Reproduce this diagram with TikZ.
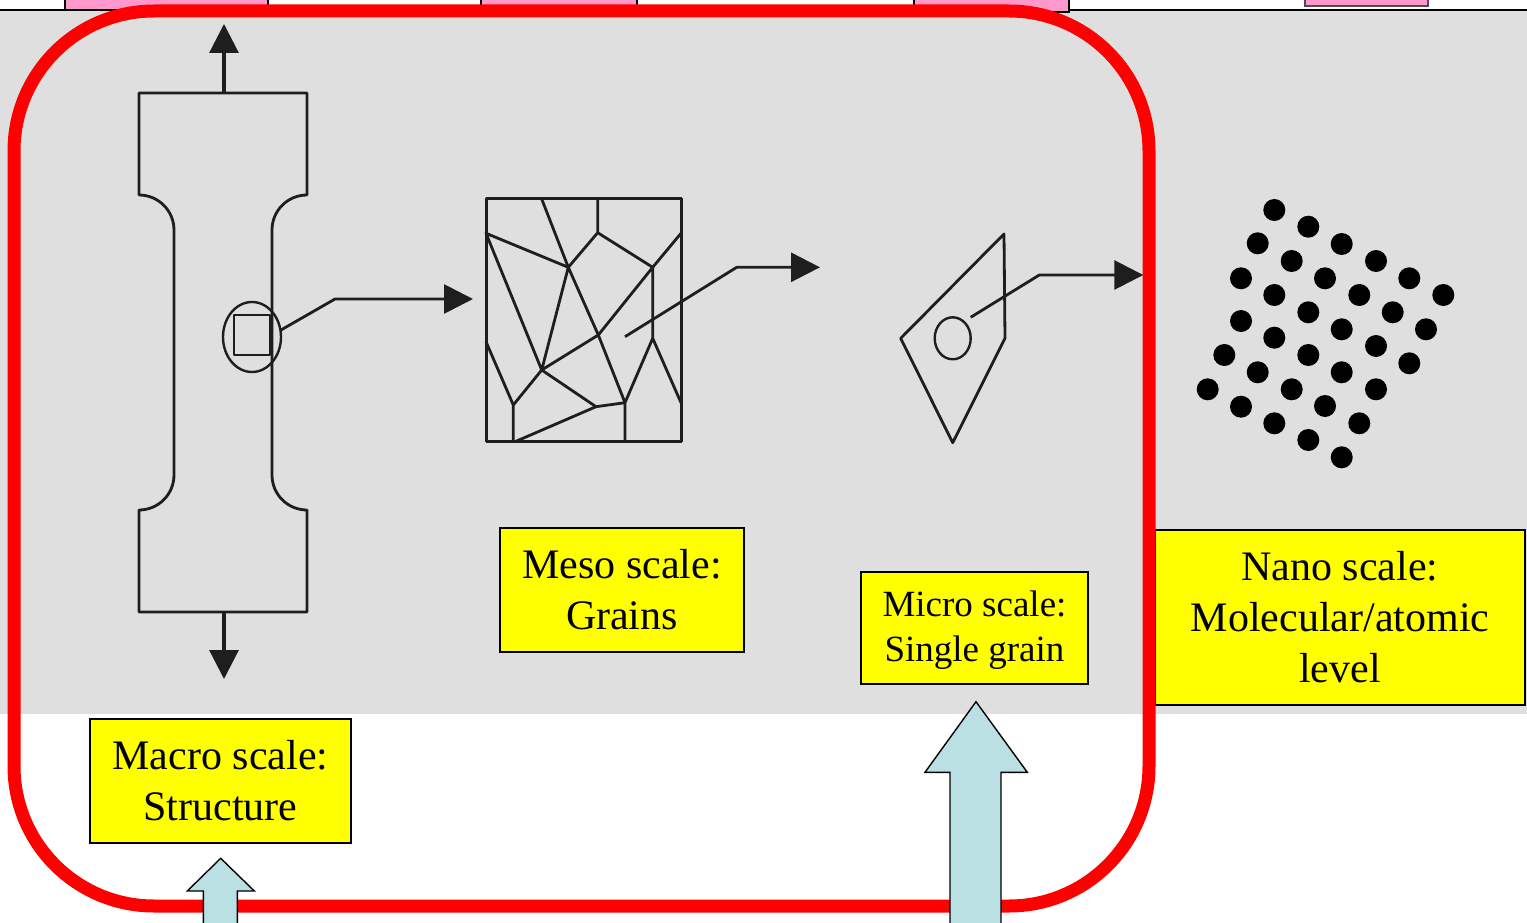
\documentclass[tikz,border=0pt]{standalone}
\usepackage{fontspec}
\setmainfont{Liberation Serif}
\usetikzlibrary{arrows.meta}
\definecolor{panelgray}{HTML}{DFDFDF}
\definecolor{tabpink}{HTML}{FF99CC}
\definecolor{scaleyellow}{HTML}{FFFF00}
\definecolor{arrowblue}{RGB}{187,224,227}
\definecolor{inkgray}{HTML}{1E1E1E}

\begin{document}
\begin{tikzpicture}[x=1pt,y=-1pt,
  sketch/.style={draw=inkgray, line width=2.8pt, line join=round, line cap=round},
  pointer/.style={sketch, line cap=butt, -{Triangle[length=29pt,width=29pt]}},
  scalebox/.style={draw=black, line width=1.4pt, fill=scaleyellow, align=center,
    inner sep=0pt, font=\fontsize{42}{51}\selectfont},
  tabbox/.style={draw=black, line width=1.4pt, fill=tabpink},
  blockarrow/.style={draw=black, line width=1.4pt, fill=arrowblue, line join=miter},
  atom/.style={fill=black}
]
\useasboundingbox (0,0) rectangle (1527,923);
\fill[white] (0,0) rectangle (1527,923);
\fill[panelgray] (0,10) rectangle (1527,714);

% tab strip along the top edge
\draw[black, line width=1.5pt] (0,10) -- (1527,10);
\draw[tabbox] (65,-5) rectangle (268,10);
\draw[tabbox] (481,-5) rectangle (637,10);
\draw[tabbox] (914,-5) rectangle (1069,12);
\draw[tabbox, draw=black!70] (1305,-5) rectangle (1428,6);

% tensile specimen
\draw[sketch] (139,93) -- (307,93) -- (307,195)
  arc[start angle=-90, end angle=-180, radius=35] -- (272,475)
  arc[start angle=180, end angle=90, radius=35] -- (307,612) -- (139,612) -- (139,510)
  arc[start angle=90, end angle=0, radius=35] -- (174,230)
  arc[start angle=0, end angle=-90, radius=35] -- cycle;
\coordinate (specTop) at (224,93);
\coordinate (specBot) at (224,612);
\coordinate (pullUp) at (224,24);
\coordinate (pullDown) at (224,679);
\draw[pointer, line width=3.2pt] (specTop) -- (pullUp);
\draw[pointer, line width=3.2pt] (specBot) -- (pullDown);
\draw[sketch, line width=2.4pt] (252,337) ellipse[x radius=29, y radius=35];
\draw[sketch, line width=2.6pt] (234,315) rectangle (270,355);
\coordinate (ringOut) at (281,330);
\coordinate (bendA) at (335,299);
\coordinate (grainsIn) at (473,299);
\draw[pointer] (ringOut) -- (bendA) -- (grainsIn);

% polycrystal (grains)
\draw[sketch, line width=3pt] (486,199) rectangle (681,441);
\coordinate (T1) at (541.7,199);
\coordinate (T2) at (597.7,199);
\coordinate (A) at (486,233.3);
\coordinate (B) at (568.3,267.3);
\coordinate (C) at (597.7,232.7);
\coordinate (D) at (652.7,267.3);
\coordinate (E) at (681,233.3);
\coordinate (F) at (652.7,338.3);
\coordinate (G) at (598.3,335);
\coordinate (H) at (541.7,370);
\coordinate (I) at (625,402.7);
\coordinate (J) at (596,406.7);
\coordinate (K) at (513.3,405);
\coordinate (L) at (486,341.7);
\coordinate (M) at (516.7,441);
\coordinate (N) at (625,441);
\coordinate (P) at (513.3,441);
\coordinate (Q) at (681,402.7);
\draw[sketch] (T1) -- (B) (T2) -- (C) (A) -- (B) -- (C) -- (D) -- (E)
  (D) -- (F) (A) -- (H) (B) -- (H) (B) -- (G) -- (I) (D) -- (G) -- (H)
  (H) -- (J) -- (I) -- (N) (I) -- (F) -- (Q) (L) -- (K) -- (H) (K) -- (P) (J) -- (M);
\coordinate (grainOut) at (625,336.7);
\coordinate (bendB) at (736.7,267.3);
\coordinate (singleIn) at (820,267.3);
\draw[pointer] (grainOut) -- (bendB) -- (singleIn);

% single grain
\draw[sketch] (1004,234) -- (900.7,338.3) -- (952.7,442.7) -- (1005,338.3) -- cycle;
\draw[sketch, line width=2.4pt] (952.7,338.3) ellipse[x radius=18, y radius=21];
\coordinate (spotOut) at (970.7,317.3);
\coordinate (bendC) at (1039.3,275);
\coordinate (atomsIn) at (1143.3,275);
\draw[pointer] (spotOut) -- (bendC) -- (atomsIn);

% atomic lattice
\foreach \px/\py in {
  1274.3/210, 1308.3/226.7, 1341.7/244, 1376/261, 1409.3/278.3, 1443.3/295,
  1257.7/243.3, 1291.7/261, 1325/278.3, 1359.3/295, 1392.7/312.3, 1426/329.3,
  1241/278.3, 1274.3/295, 1308.3/312.3, 1341.7/329.3, 1376/346, 1409.3/363.3,
  1241/321, 1274.3/337.7, 1308.3/355, 1341.7/372.3, 1376/389.3,
  1224.3/355, 1257.7/372.3, 1291.7/389.3, 1325/406, 1359.3/423.3,
  1207.7/389.3, 1241/406.7, 1274.3/423.3, 1308.3/440, 1341.7/457.3}
  \fill[atom] (\px,\py) circle (11);

% scale labels
\node[scalebox, minimum width=244pt, minimum height=124pt] (meso) at (622,590)
  {Meso scale:\\Grains};
\node[scalebox, minimum width=261pt, minimum height=124pt] (macro) at (220.5,781)
  {Macro scale:\\Structure};
\node[scalebox, minimum width=227pt, minimum height=112pt,
  font=\fontsize{37}{45}\selectfont, text depth=4pt] (micro) at (974.5,628)
  {Micro scale:\\Single grain};
\node[scalebox, minimum width=370pt, minimum height=175pt] (nano) at (1340,617.5)
  {Nano scale:\\Molecular/atomic\\level};

% frame around the continuum scales
\draw[red, line width=13pt, rounded corners=140pt] (14,11) rectangle (1149,906);

% block arrows
\draw[blockarrow] (203.3,935) -- (203.3,891) -- (187.3,891) -- (220.7,858.3)
  -- (254.3,891) -- (237.3,891) -- (237.3,935) -- cycle;
\draw[blockarrow] (950,935) -- (950,772.3) -- (925,772.3) -- (976,701.7)
  -- (1027.3,772.3) -- (1001,772.3) -- (1001,935) -- cycle;
\end{tikzpicture}
\end{document}
